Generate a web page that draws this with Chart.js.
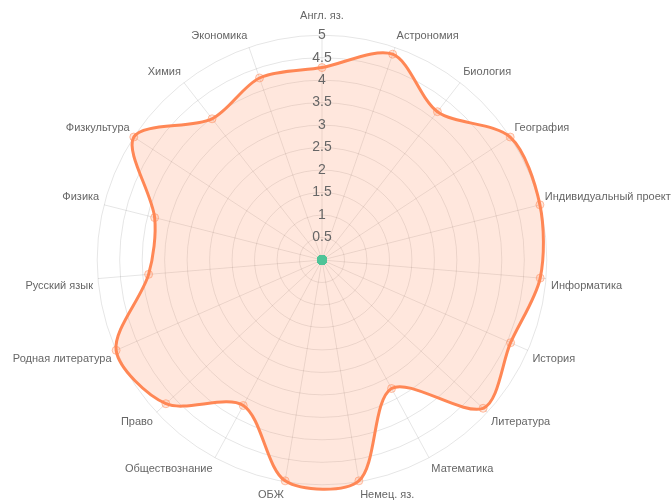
<!DOCTYPE html>
<html>
<head>
<meta charset="utf-8">
<script src="https://cdn.jsdelivr.net/npm/chart.js@4/dist/chart.umd.min.js"></script>
<style>
  html, body { margin: 0; padding: 0; background: #fff; overflow: hidden; }
  #wrap { position: relative; width: 672px; height: 502px; overflow: hidden; }
  #radar { position: absolute; left: 0; top: 0; }
</style>
</head>
<body>
<div id="wrap"><canvas id="radar" width="900" height="502"></canvas></div>
<script>
// предметы и оценки
const predmety = ['Англ. яз.', 'Астрономия', 'Биология', 'География', 'Индивидуальный проект',
  'Информатика', 'История', 'Литература', 'Математика', 'Немец. яз.', 'ОБЖ', 'Обществознание',
  'Право', 'Родная литература', 'Русский язык', 'Физика', 'Физкультура', 'Химия', 'Экономика'];
const ocenki = [4.28, 4.84, 4.18, 5, 5, 4.87, 4.58, 4.87, 3.25, 4.98, 4.98, 3.68, 4.72, 5, 3.87, 3.84, 5, 3.98, 4.28];
const nuli = [0, 0, 0, 0, 0, 0, 0, 0, 0, 0, 0, 0, 0, 0, 0, 0, 0, 0, 0];

Chart.defaults.font.family = '"Liberation Sans", Arial, sans-serif';
Chart.defaults.color = '#666';

const canvas = document.getElementById('radar');
const chart = new Chart(canvas, {
  type: 'radar',
  data: {
    labels: predmety,
    datasets: [{
      label: 'Оценки',
      data: ocenki,
      order: 1,
      borderColor: 'rgb(255, 135, 85)',
      backgroundColor: 'rgba(255, 135, 85, 0.2)',
      pointBackgroundColor: 'rgba(255, 135, 85, 0.2)',
      pointBorderColor: 'rgba(255, 135, 85, 0.5)',
      pointRadius: 4,
      pointBorderWidth: 1,
      borderWidth: 3,
      tension: 0.3,
      fill: true
    }, {
      label: 'Ноль',
      data: nuli,
      order: 0,
      borderColor: 'rgb(78, 196, 152)',
      backgroundColor: 'rgb(78, 196, 152)',
      pointBackgroundColor: 'rgb(78, 196, 152)',
      pointBorderColor: 'rgb(78, 196, 152)',
      pointRadius: 5,
      borderWidth: 0,
      fill: false
    }]
  },
  options: {
    responsive: false,
    animation: false,
    plugins: { legend: { display: false }, tooltip: { enabled: false } },
    scales: {
      r: {
        min: 0,
        max: 5,
        ticks: {
          stepSize: 0.5,
          showLabelBackdrop: false,
          color: '#666',
          font: { size: 14 },
          z: 1,
          callback: v => String(v)
        },
        grid: { circular: true, color: 'rgba(0,0,0,0.1)' },
        angleLines: { color: 'rgba(0,0,0,0.1)' },
        pointLabels: {
          font: { size: 11 },
          color: '#666',
          padding: ctx => (ctx.index === 0 ? 4 : (ctx.index === 9 || ctx.index === 10 ? -2 : -4))
        }
      }
    }
  }
});
// сдвигаем холст, чтобы центр совпал с картинкой
const r = chart.scales.r;
canvas.style.left = (322 - r.xCenter) + 'px';
canvas.style.top = (260 - r.yCenter) + 'px';
</script>
</body>
</html>
